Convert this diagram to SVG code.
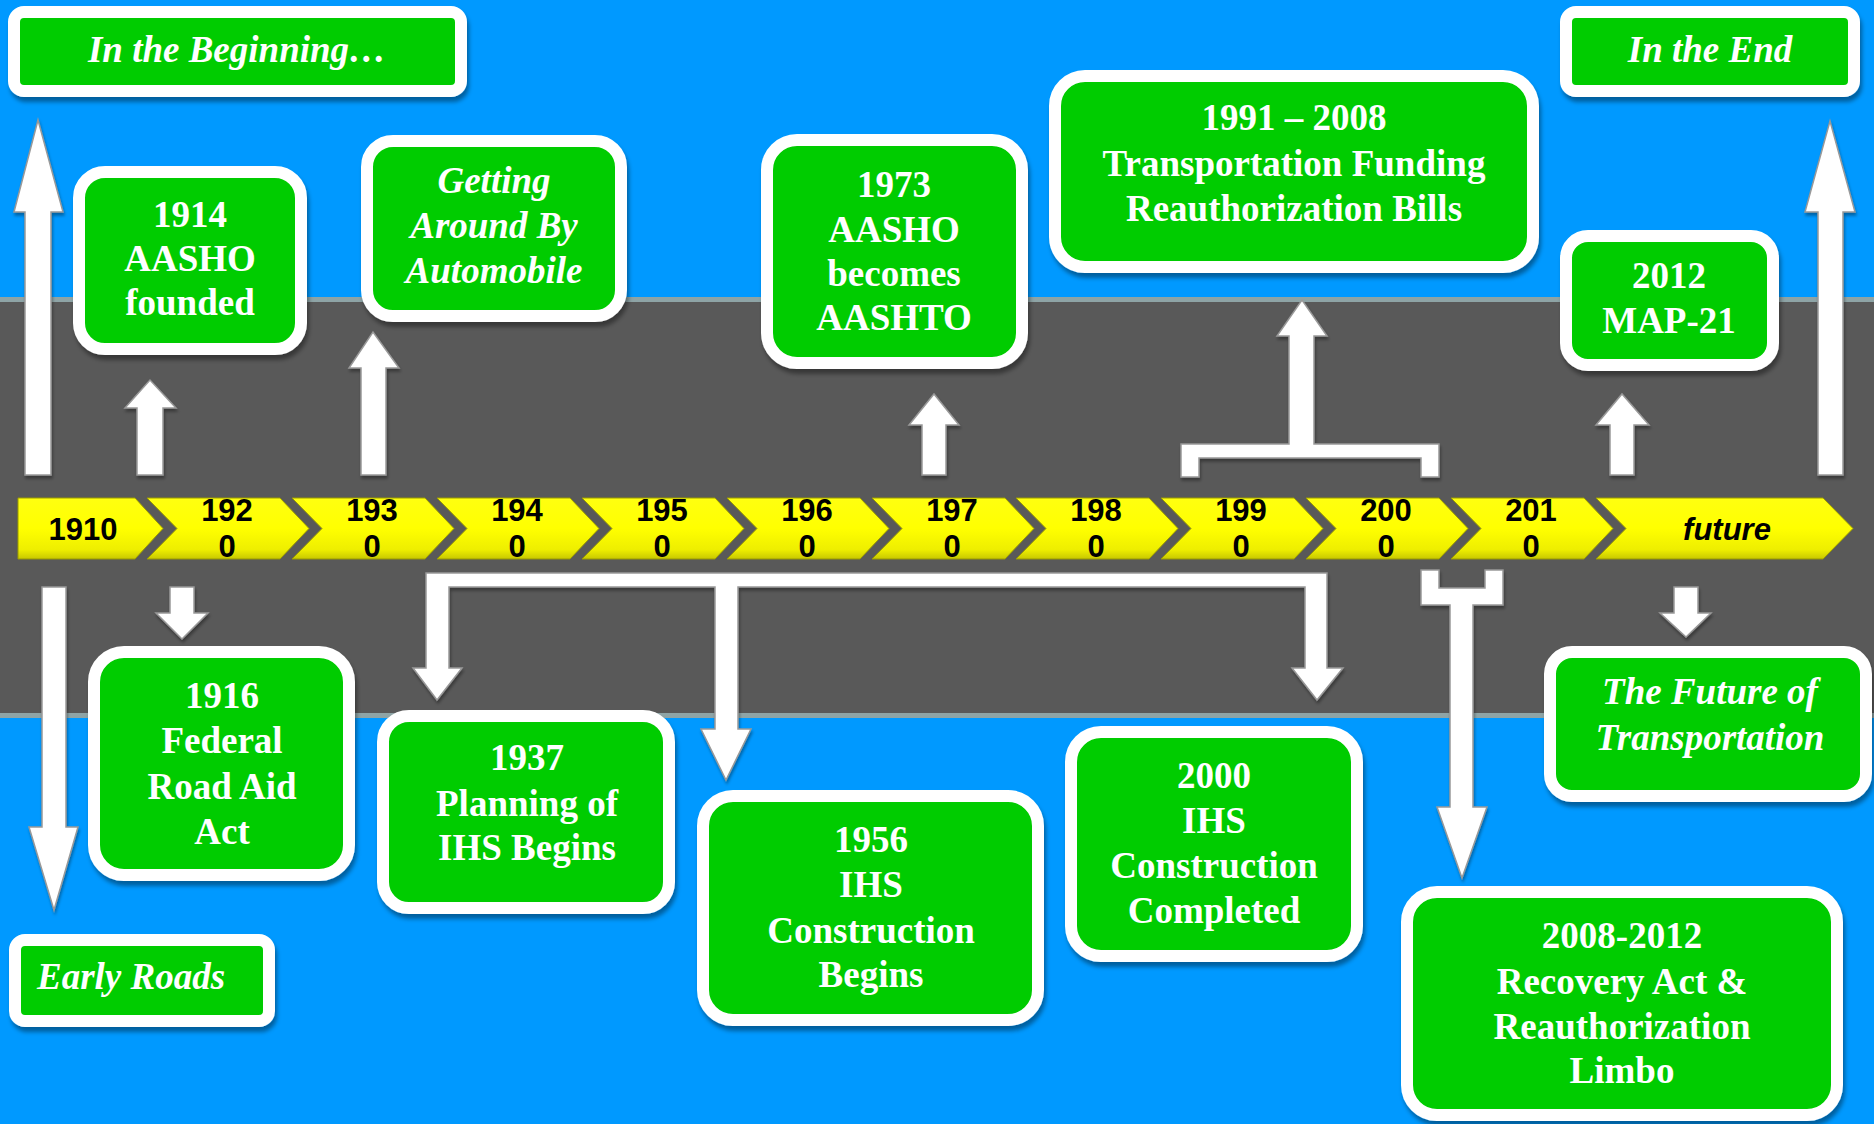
<svg xmlns="http://www.w3.org/2000/svg" width="1874" height="1124" viewBox="0 0 1874 1124">
<defs>
<style>
.box{fill:#00cc00;stroke:#ffffff;stroke-width:12;filter:url(#shadow)}
.t{font-family:"Liberation Serif","Times New Roman",serif;font-weight:bold;font-size:37px;fill:#ffffff;text-anchor:middle}
.i{font-style:italic}
.arrow{fill:#ffffff;stroke:#999999;stroke-width:1.5;stroke-linejoin:miter;filter:url(#ashadow)}
.chev{fill:url(#yel);stroke:#9c9c00;stroke-width:1}
.ct{font-family:"Liberation Sans",Arial,sans-serif;font-weight:bold;font-size:31px;fill:#000000;text-anchor:middle}
</style>
<linearGradient id="yel" x1="0" y1="0" x2="0" y2="1">
<stop offset="0" stop-color="#ffff10"/>
<stop offset="0.5" stop-color="#ffff00"/>
<stop offset="0.85" stop-color="#eeee00"/>
<stop offset="1" stop-color="#c8c800"/>
</linearGradient>
<filter id="shadow" x="-10%" y="-10%" width="125%" height="130%">
<feDropShadow dx="2" dy="5" stdDeviation="2" flood-color="#000000" flood-opacity="0.38"/>
</filter>
<filter id="ashadow" x="-30%" y="-10%" width="160%" height="125%">
<feDropShadow dx="1" dy="3" stdDeviation="1.5" flood-color="#000000" flood-opacity="0.35"/>
</filter>
</defs>

<rect x="0" y="0" width="1874" height="1124" fill="#0099ff"/>
<g id="road">
<rect x="0" y="297" width="1874" height="421" fill="#595959"/>
<rect x="0" y="297" width="1874" height="5" fill="#8ea4a6"/>
<rect x="0" y="713" width="1874" height="5" fill="#8ea4a6"/>
</g>

<g id="connectors">
<polygon class="arrow" points="25,475 51,475 51,212 63,212 38,120 14,212 25,212"/>
<polygon class="arrow" points="137,475 163,475 163,408 176,408 150,380 125,408 137,408"/>
<polygon class="arrow" points="361,475 386,475 386,368 399,368 373,332 349,368 361,368"/>
<polygon class="arrow" points="922,475 946,475 946,425 959,425 934,394 909,425 922,425"/>
<polygon class="arrow" points="1181,477 1181,444 1289,444 1289,336 1277,336 1302,300 1327,336 1314,336 1314,444 1439,444 1439,477 1421,477 1421,458 1199,458 1199,477"/>
<polygon class="arrow" points="1610,475 1634,475 1634,425 1649,425 1622,394 1596,425 1610,425"/>
<polygon class="arrow" points="1818,475 1843,475 1843,212 1855,212 1830,121 1805,212 1818,212"/>
<polygon class="arrow" points="42,587 66,587 66,827 78,827 54,910 29,827 42,827"/>
<polygon class="arrow" points="170,587 194,587 194,613 208,613 182,639 156,613 170,613"/>
<polygon class="arrow" points="426,573 1327,573 1327,668 1343,668 1317,700 1292,668 1305,668 1305,587 738,587 738,729 751,729 726,780 701,729 715,729 715,587 449,587 449,668 462,668 437,700 413,668 426,668"/>
<polygon class="arrow" points="1421,570 1439,570 1439,588 1485,588 1485,570 1503,570 1503,605 1473,605 1473,807 1487,807 1462,878 1437,807 1450,807 1450,605 1421,605"/>
<polygon class="arrow" points="1674,587 1698,587 1698,613 1711,613 1686,637 1660,613 1674,613"/>
</g>

<g id="timeline">
<g id="y1910"><polygon class="chev" points="18,498 135,498 163,528.5 135,559 18,559"/><text class="ct" x="83" y="540">1910</text></g>
<g id="y1920"><polygon class="chev" points="147,498 280,498 309,528.5 280,559 147,559 177,528.5"/><text class="ct"><tspan x="227" y="521">192</tspan><tspan x="227" y="557">0</tspan></text></g>
<g id="y1930"><polygon class="chev" points="292,498 425,498 454,528.5 425,559 292,559 322,528.5"/><text class="ct"><tspan x="372" y="521">193</tspan><tspan x="372" y="557">0</tspan></text></g>
<g id="y1940"><polygon class="chev" points="437,498 570,498 599,528.5 570,559 437,559 467,528.5"/><text class="ct"><tspan x="517" y="521">194</tspan><tspan x="517" y="557">0</tspan></text></g>
<g id="y1950"><polygon class="chev" points="582,498 715,498 744,528.5 715,559 582,559 612,528.5"/><text class="ct"><tspan x="662" y="521">195</tspan><tspan x="662" y="557">0</tspan></text></g>
<g id="y1960"><polygon class="chev" points="727,498 860,498 889,528.5 860,559 727,559 757,528.5"/><text class="ct"><tspan x="807" y="521">196</tspan><tspan x="807" y="557">0</tspan></text></g>
<g id="y1970"><polygon class="chev" points="872,498 1005,498 1034,528.5 1005,559 872,559 902,528.5"/><text class="ct"><tspan x="952" y="521">197</tspan><tspan x="952" y="557">0</tspan></text></g>
<g id="y1980"><polygon class="chev" points="1016,498 1149,498 1178,528.5 1149,559 1016,559 1046,528.5"/><text class="ct"><tspan x="1096" y="521">198</tspan><tspan x="1096" y="557">0</tspan></text></g>
<g id="y1990"><polygon class="chev" points="1161,498 1294,498 1323,528.5 1294,559 1161,559 1191,528.5"/><text class="ct"><tspan x="1241" y="521">199</tspan><tspan x="1241" y="557">0</tspan></text></g>
<g id="y2000"><polygon class="chev" points="1306,498 1439,498 1468,528.5 1439,559 1306,559 1336,528.5"/><text class="ct"><tspan x="1386" y="521">200</tspan><tspan x="1386" y="557">0</tspan></text></g>
<g id="y2010"><polygon class="chev" points="1451,498 1584,498 1613,528.5 1584,559 1451,559 1481,528.5"/><text class="ct"><tspan x="1531" y="521">201</tspan><tspan x="1531" y="557">0</tspan></text></g>
<g id="yfuture"><polygon class="chev" points="1596,498 1823,498 1853,528.5 1823,559 1596,559 1626,528.5"/><text class="ct" font-style="italic" x="1727" y="540">future</text></g>
</g>

<g id="n-beginning"><rect class="box" x="14" y="12" width="447" height="79" rx="10"/><text class="t i" x="237" y="62">In the Beginning…</text></g>
<g id="n-1914"><rect class="box" x="79" y="172" width="222" height="177" rx="26"/><text class="t"><tspan x="190" y="227">1914</tspan><tspan x="190" y="271">AASHO</tspan><tspan x="190" y="315">founded</tspan></text></g>
<g id="n-automobile"><rect class="box" x="367" y="141" width="254" height="175" rx="26"/><text class="t i"><tspan x="494" y="193">Getting</tspan><tspan x="494" y="238">Around By</tspan><tspan x="494" y="283">Automobile</tspan></text></g>
<g id="n-1973"><rect class="box" x="767" y="140" width="255" height="223" rx="30"/><text class="t"><tspan x="894" y="197">1973</tspan><tspan x="894" y="242">AASHO</tspan><tspan x="894" y="286">becomes</tspan><tspan x="894" y="330">AASHTO</tspan></text></g>
<g id="n-1991"><rect class="box" x="1055" y="76" width="478" height="191" rx="30"/><text class="t"><tspan x="1294" y="130">1991 – 2008</tspan><tspan x="1294" y="176">Transportation Funding</tspan><tspan x="1294" y="221">Reauthorization Bills</tspan></text></g>
<g id="n-end"><rect class="box" x="1566" y="12" width="288" height="79" rx="10"/><text class="t i" x="1710" y="62">In the End</text></g>
<g id="n-2012"><rect class="box" x="1566" y="236" width="207" height="129" rx="22"/><text class="t"><tspan x="1669" y="288">2012</tspan><tspan x="1669" y="333">MAP-21</tspan></text></g>
<g id="n-1916"><rect class="box" x="94" y="652" width="255" height="223" rx="30"/><text class="t"><tspan x="222" y="708">1916</tspan><tspan x="222" y="753">Federal</tspan><tspan x="222" y="799">Road Aid</tspan><tspan x="222" y="844">Act</tspan></text></g>
<g id="n-1937"><rect class="box" x="383" y="716" width="286" height="192" rx="26"/><text class="t"><tspan x="527" y="770">1937</tspan><tspan x="527" y="816">Planning of</tspan><tspan x="527" y="860">IHS Begins</tspan></text></g>
<g id="n-early"><rect class="box" x="15" y="940" width="254" height="81" rx="10"/><text class="t i" text-anchor="start" style="text-anchor:start" x="37" y="989">Early Roads</text></g>
<g id="n-1956"><rect class="box" x="703" y="796" width="335" height="224" rx="30"/><text class="t"><tspan x="871" y="852">1956</tspan><tspan x="871" y="897">IHS</tspan><tspan x="871" y="943">Construction</tspan><tspan x="871" y="987">Begins</tspan></text></g>
<g id="n-2000"><rect class="box" x="1071" y="732" width="286" height="224" rx="30"/><text class="t"><tspan x="1214" y="788">2000</tspan><tspan x="1214" y="833">IHS</tspan><tspan x="1214" y="878">Construction</tspan><tspan x="1214" y="923">Completed</tspan></text></g>
<g id="n-future"><rect class="box" x="1550" y="652" width="316" height="144" rx="22"/><text class="t i"><tspan x="1710" y="704">The Future of</tspan><tspan x="1710" y="750">Transportation</tspan></text></g>
<g id="n-2008"><rect class="box" x="1407" y="892" width="430" height="223" rx="30"/><text class="t"><tspan x="1622" y="948">2008-2012</tspan><tspan x="1622" y="994">Recovery Act &amp;</tspan><tspan x="1622" y="1039">Reauthorization</tspan><tspan x="1622" y="1083">Limbo</tspan></text></g>
</svg>
